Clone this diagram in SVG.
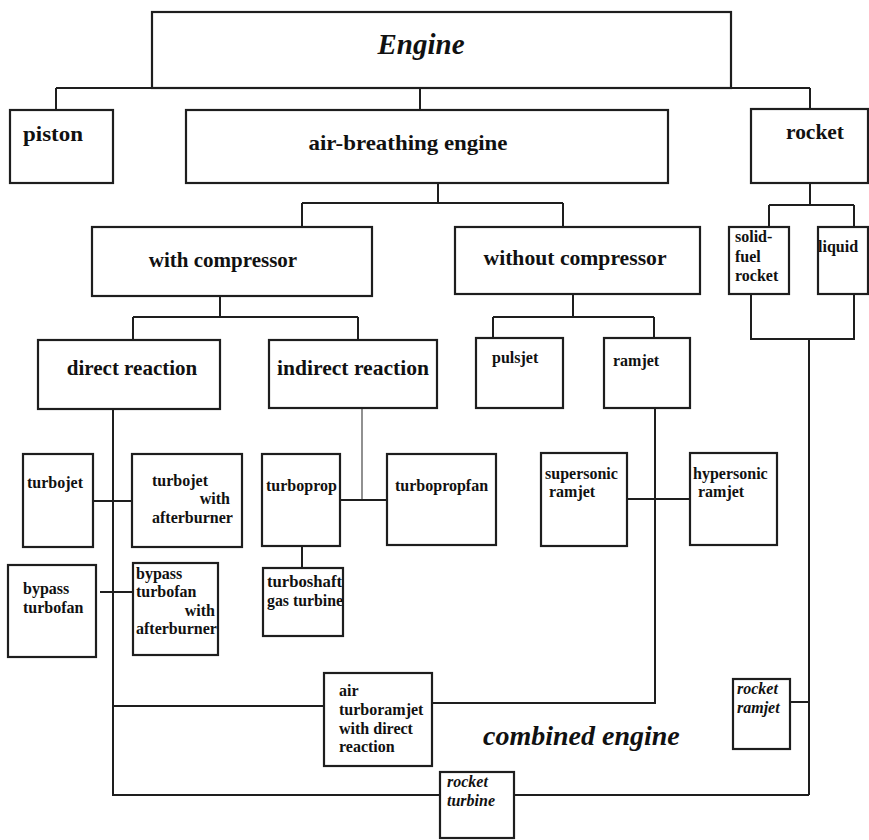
<svg xmlns="http://www.w3.org/2000/svg" width="869" height="840" viewBox="0 0 869 840">
<style>
  .box { fill: #ffffff; stroke: #1e1e1e; stroke-width: 2.2; }
  .ln { fill: none; stroke: #1e1e1e; stroke-width: 2; }
  .thin { fill: none; stroke: #555; stroke-width: 1.3; }
  text { font-family: "Liberation Serif", "Times New Roman", serif; font-weight: bold; fill: #111; }
  .big { font-size: 21px; }
  .sm { font-size: 16px; }
  .it { font-style: italic; }
</style>
<rect x="0" y="0" width="869" height="840" fill="#ffffff"/>
<g id="connectors">
  <path class="ln" d="M56,88 H810 M56,88 V110 M420,88 V110 M810,88 V108"/>
  <path class="ln" d="M438,183 V203 M302,203 H563 M302,203 V227 M563,203 V227"/>
  <path class="ln" d="M220,296 V317 M133,317 H358 M133,317 V340 M358,317 V340"/>
  <path class="ln" d="M573,294 V317 M493,317 H654 M493,317 V338 M654,317 V338"/>
  <path class="ln" d="M810,183 V205 M769,205 H854 M769,205 V227 M854,205 V227"/>
  <path class="ln" d="M751,294 V339 H854 V294 M809,339 V795"/>
  <path class="ln" d="M113,409 V795 H440 M514,795 H809"/>
  <path class="ln" d="M93,501 H132 M100,592 H133"/>
  <path class="thin" d="M362,408 V500"/>
  <path class="ln" d="M340,500 H387 M302,546 V568"/>
  <path class="ln" d="M655,408 V703 H432"/>
  <path class="ln" d="M627,499 H690"/>
  <path class="ln" d="M113,706 H324 M790,702 H809"/>
</g>
<g id="engine">
  <rect class="box" x="152" y="12" width="579" height="76"/>
  <text x="421" y="54" font-size="29" class="it" text-anchor="middle">Engine</text>
</g>
<g id="piston">
  <rect class="box" x="10" y="110" width="103" height="73"/>
  <text x="23" y="141" font-size="22" textLength="60" lengthAdjust="spacingAndGlyphs">piston</text>
</g>
<g id="air-breathing">
  <rect class="box" x="186" y="110" width="482" height="73"/>
  <text x="408" y="150" class="big" text-anchor="middle" textLength="199" lengthAdjust="spacingAndGlyphs">air-breathing engine</text>
</g>
<g id="rocket">
  <rect class="box" x="751" y="109" width="117" height="74"/>
  <text x="786" y="139" font-size="21" textLength="58" lengthAdjust="spacingAndGlyphs">rocket</text>
</g>
<g id="with-compressor">
  <rect class="box" x="92" y="227" width="280" height="69"/>
  <text x="223" y="267" class="big" text-anchor="middle">with compressor</text>
</g>
<g id="without-compressor">
  <rect class="box" x="455" y="227" width="245" height="67"/>
  <text x="575" y="265" class="big" text-anchor="middle" textLength="183" lengthAdjust="spacingAndGlyphs">without compressor</text>
</g>
<g id="solid-fuel-rocket">
  <rect class="box" x="729" y="227" width="60" height="67"/>
  <text class="sm" x="735" y="242">solid-</text>
  <text class="sm" x="735" y="262">fuel</text>
  <text class="sm" x="735" y="281">rocket</text>
</g>
<g id="liquid">
  <rect class="box" x="818" y="227" width="50" height="67"/>
  <text class="sm" x="818" y="252">liquid</text>
</g>
<g id="direct-reaction">
  <rect class="box" x="38" y="340" width="182" height="69"/>
  <text x="132" y="375" class="big" text-anchor="middle">direct reaction</text>
</g>
<g id="indirect-reaction">
  <rect class="box" x="269" y="340" width="168" height="68"/>
  <text x="353" y="375" class="big" text-anchor="middle" textLength="152" lengthAdjust="spacingAndGlyphs">indirect reaction</text>
</g>
<g id="pulsjet">
  <rect class="box" x="476" y="338" width="87" height="70"/>
  <text class="sm" x="492" y="363">pulsjet</text>
</g>
<g id="ramjet">
  <rect class="box" x="604" y="338" width="86" height="70"/>
  <text class="sm" x="613" y="366">ramjet</text>
</g>
<g id="turbojet">
  <rect class="box" x="23" y="454" width="70" height="93"/>
  <text class="sm" x="27" y="488">turbojet</text>
</g>
<g id="turbojet-afterburner">
  <rect class="box" x="132" y="454" width="110" height="93"/>
  <text class="sm" x="152" y="486">turbojet</text>
  <text class="sm" x="230" y="504" text-anchor="end">with</text>
  <text class="sm" x="152" y="523">afterburner</text>
</g>
<g id="turboprop">
  <rect class="box" x="262" y="454" width="78" height="92"/>
  <text class="sm" x="266" y="491">turboprop</text>
</g>
<g id="turbopropfan">
  <rect class="box" x="387" y="454" width="109" height="91"/>
  <text class="sm" x="395" y="491">turbopropfan</text>
</g>
<g id="supersonic-ramjet">
  <rect class="box" x="541" y="453" width="86" height="93"/>
  <text class="sm" x="545" y="479">supersonic</text>
  <text class="sm" x="549" y="497">ramjet</text>
</g>
<g id="hypersonic-ramjet">
  <rect class="box" x="690" y="453" width="87" height="92"/>
  <text class="sm" x="693" y="479">hypersonic</text>
  <text class="sm" x="698" y="497">ramjet</text>
</g>
<g id="bypass-turbofan">
  <rect class="box" x="8" y="565" width="88" height="92"/>
  <text class="sm" x="23" y="594">bypass</text>
  <text class="sm" x="23" y="613">turbofan</text>
</g>
<g id="bypass-turbofan-afterburner">
  <rect class="box" x="133" y="563" width="85" height="92"/>
  <text class="sm" x="136" y="579">bypass</text>
  <text class="sm" x="136" y="597">turbofan</text>
  <text class="sm" x="215" y="616" text-anchor="end">with</text>
  <text class="sm" x="136" y="634">afterburner</text>
</g>
<g id="turboshaft">
  <rect class="box" x="263" y="568" width="80" height="68"/>
  <text class="sm" x="267" y="587" textLength="75" lengthAdjust="spacingAndGlyphs">turboshaft</text>
  <text class="sm" x="267" y="606" textLength="76" lengthAdjust="spacingAndGlyphs">gas turbine</text>
</g>
<g id="air-turboramjet">
  <rect class="box" x="324" y="673" width="108" height="93"/>
  <text class="sm" x="339" y="696">air</text>
  <text class="sm" x="339" y="715">turboramjet</text>
  <text class="sm" x="339" y="734">with direct</text>
  <text class="sm" x="339" y="752">reaction</text>
</g>
<g id="rocket-ramjet">
  <rect class="box" x="733" y="679" width="57" height="70"/>
  <text class="sm it" x="737" y="694">rocket</text>
  <text class="sm it" x="737" y="713">ramjet</text>
</g>
<g id="rocket-turbine">
  <rect class="box" x="440" y="772" width="74" height="66"/>
  <text class="sm it" x="447" y="787">rocket</text>
  <text class="sm it" x="447" y="806">turbine</text>
</g>
<g id="combined-engine-label">
  <text x="483" y="745" font-size="28" class="it">combined engine</text>
</g>
</svg>
